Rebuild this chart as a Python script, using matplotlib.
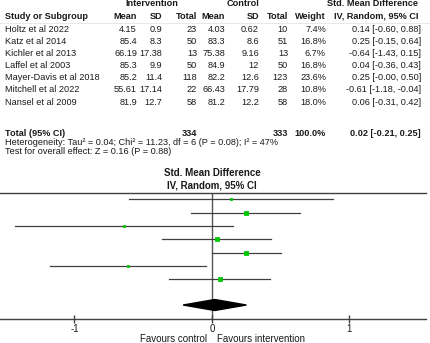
import numpy as np
import matplotlib
matplotlib.use("Agg")
import matplotlib.pyplot as plt
from matplotlib.patches import Polygon

plt.rcParams['font.family'] = ['Liberation Sans', 'DejaVu Sans']

# ---- study data ----
studies = ["Holtz et al 2022", "Katz et al 2014", "Kichler et al 2013",
           "Laffel et al 2003", "Mayer-Davis et al 2018", "Mitchell et al 2022",
           "Nansel et al 2009"]
int_mean = [4.15, 85.4, 66.19, 85.3, 85.2, 55.61, 81.9]
int_sd = [0.9, 8.3, 17.38, 9.9, 11.4, 17.14, 12.7]
int_n = [23, 50, 13, 50, 118, 22, 58]
ctl_mean = [4.03, 83.3, 75.38, 84.9, 82.2, 66.43, 81.2]
ctl_sd = [0.62, 8.6, 9.16, 12, 12.6, 17.79, 12.2]
ctl_n = [10, 51, 13, 50, 123, 28, 58]
weight = [7.4, 16.8, 6.7, 16.8, 23.6, 10.8, 18.0]
smd = [0.14, 0.25, -0.64, 0.04, 0.25, -0.61, 0.06]
ci_lo = [-0.60, -0.15, -1.43, -0.36, -0.0, -1.18, -0.31]
ci_hi = [0.88, 0.64, 0.15, 0.43, 0.50, -0.04, 0.42]

total_int_n = 334
total_ctl_n = 333
total_weight = 100.0
pooled = 0.02
pooled_lo = -0.21
pooled_hi = 0.25

x_ticks = [-1, 0, 1]
x_ticklabels = ["-1", "0", "1"]

heterogeneity = "Heterogeneity: Tau\u00b2 = 0.04; Chi\u00b2 = 11.23, df = 6 (P = 0.08); I\u00b2 = 47%"
overall = "Test for overall effect: Z = 0.16 (P = 0.88)"

W, H = 431, 343
TXT = "#1a1a1a"
LINE = "#404040"
GREEN = "#00c800"

fig = plt.figure(figsize=(W / 100, H / 100), dpi=100)
fig.patch.set_facecolor("white")

# overlay axes in pixel units for the table text
tx = fig.add_axes([0, 0, 1, 1])
tx.set_xlim(0, W)
tx.set_ylim(H, 0)
tx.axis("off")

fs = 6.6


def put(x, y, s, ha="right", bold=False, size=fs):
    tx.text(x, y, s, ha=ha, va="center", fontsize=size, color=TXT,
            fontweight="bold" if bold else "normal")


# column right edges
c_im, c_isd, c_in = 137, 162, 197
c_cm, c_csd, c_cn = 225, 259, 288
c_w, c_ci = 326, 421

# group headers
put(152, 4, "Intervention", ha="center", bold=True)
put(243, 4, "Control", ha="center", bold=True)
put(418, 4, "Std. Mean Difference", ha="right", bold=True)

# column headers
hy = 16.5
put(5, hy, "Study or Subgroup", ha="left", bold=True)
put(c_im, hy, "Mean", bold=True)
put(c_isd, hy, "SD", bold=True)
put(c_in, hy, "Total", bold=True)
put(c_cm, hy, "Mean", bold=True)
put(c_csd, hy, "SD", bold=True)
put(c_cn, hy, "Total", bold=True)
put(c_w, hy, "Weight", bold=True)
put(418, hy, "IV, Random, 95% CI", bold=True)
tx.plot([0, W], [22.5, 22.5], color="#e4e4e4", lw=0.6)

# study rows
for i, name in enumerate(studies):
    y = 29 + 12.2 * i
    put(5, y, name, ha="left")
    put(c_im, y, f"{int_mean[i]:g}")
    put(c_isd, y, f"{int_sd[i]:g}")
    put(c_in, y, f"{int_n[i]}")
    put(c_cm, y, f"{ctl_mean[i]:g}")
    put(c_csd, y, f"{ctl_sd[i]:g}")
    put(c_cn, y, f"{ctl_n[i]}")
    put(c_w, y, f"{weight[i]:.1f}%")
    put(c_ci, y, f"{smd[i]:.2f} [{ci_lo[i]:.2f}, {ci_hi[i]:.2f}]")

# totals
ty = 133
put(5, ty, "Total (95% CI)", ha="left", bold=True)
put(c_in, ty, f"{total_int_n}", bold=True)
put(c_cn, ty, f"{total_ctl_n}", bold=True)
put(c_w, ty, f"{total_weight:.1f}%", bold=True)
put(c_ci, ty, f"{pooled:.2f} [{pooled_lo:.2f}, {pooled_hi:.2f}]", bold=True)
put(5, 142.5, heterogeneity, ha="left")
put(5, 152, overall, ha="left")

# forest plot header and footer labels
put(212, 173, "Std. Mean Difference", ha="center", bold=True, size=7)
put(212, 185, "IV, Random, 95% CI", ha="center", bold=True, size=7)
put(207, 339, "Favours control", ha="right", size=7)
put(217, 339, "Favours intervention", ha="left", size=7)

# ---- forest axes ----
px_per_unit = 137.5
x0_px = 212
top_px, bot_px = 193, 319
row0_px, row_step = 199.3, 13.33
ax_w_px = 426
ax = fig.add_axes([0, (H - bot_px) / H, ax_w_px / W, (bot_px - top_px) / H])
ax.set_facecolor("none")
ax.set_xlim(-x0_px / px_per_unit, (ax_w_px - x0_px) / px_per_unit)
ax.set_ylim((bot_px - row0_px) / row_step, (top_px - row0_px) / row_step)

ax.axvline(0, color="#555555", lw=1.0, zorder=1)
for i in range(len(studies)):
    ax.plot([ci_lo[i], ci_hi[i]], [i, i], color=LINE, lw=0.9, zorder=2)
    # square side grows with the study weight
    side_px = 0.85 * np.sqrt(weight[i])
    ax.plot(smd[i], i, marker="s", ms=side_px * 0.72, color=GREEN,
            mec=GREEN, mew=0.6, zorder=3)

yd = 7.93
hh = 5.5 / row_step
ax.add_patch(Polygon([[pooled_lo, yd], [pooled, yd - hh], [pooled_hi, yd],
                      [pooled, yd + hh]], closed=True, color="black", zorder=3))

for s in ["left", "right"]:
    ax.spines[s].set_visible(False)
for s in ["top", "bottom"]:
    ax.spines[s].set_color(LINE)
    ax.spines[s].set_linewidth(1.0)
ax.set_yticks([])
ax.set_xticks(x_ticks)
ax.set_xticklabels(x_ticklabels)
ax.tick_params(axis="x", direction="inout", length=6, width=1, color=LINE,
               labelsize=7, labelcolor=TXT, pad=0.5)

fig.savefig("out.png", dpi=100, facecolor="white")
